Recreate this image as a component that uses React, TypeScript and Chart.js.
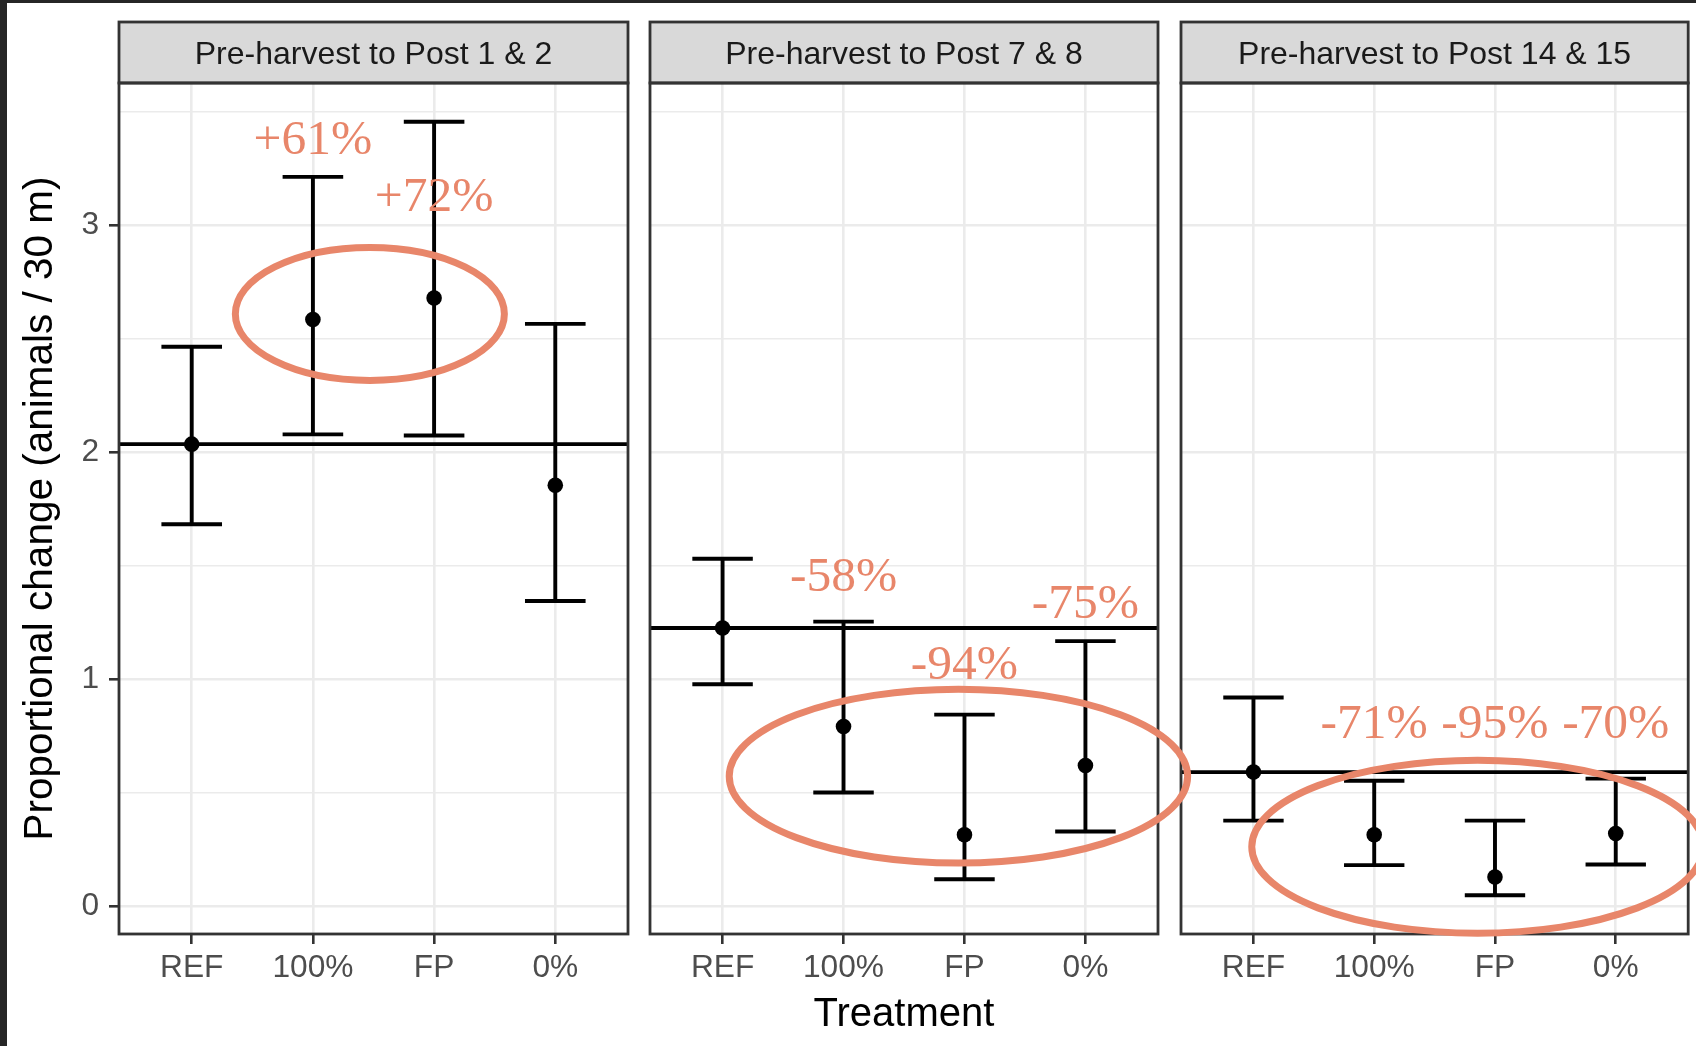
import React, { useEffect, useRef } from "react";
import { Chart, registerables } from "chart.js";

Chart.register(...registerables);

// ---------------- data ----------------
const categories = ["REF", "100%", "FP", "0%"];
const panelTitles = [
  "Pre-harvest to Post 1 & 2",
  "Pre-harvest to Post 7 & 8",
  "Pre-harvest to Post 14 & 15",
];

const meansP1 = [2.036, 2.585, 2.68, 1.855];
const lowerP1 = [1.683, 2.079, 2.074, 1.345];
const upperP1 = [2.465, 3.214, 3.457, 2.566];

const meansP2 = [1.226, 0.792, 0.315, 0.62];
const lowerP2 = [0.978, 0.501, 0.119, 0.329];
const upperP2 = [1.531, 1.254, 0.844, 1.168];

const meansP3 = [0.591, 0.315, 0.129, 0.32];
const lowerP3 = [0.377, 0.181, 0.048, 0.184];
const upperP3 = [0.92, 0.553, 0.377, 0.562];

const yMajorTicks = [0, 1, 2, 3];
const yMinorTicks = [0.5, 1.5, 2.5, 3.5];

// annotation labels (category index, value of baseline)
const annoLabelsP1 = ["+61%", "+72%"];
const annoCatP1 = [2, 3];
const annoValP1 = [3.313, 3.062];

const annoLabelsP2 = ["-58%", "-94%", "-75%"];
const annoCatP2 = [2, 3, 4];
const annoValP2 = [1.39, 1.0, 1.27];

const annoLabelsP3 = ["-71%", "-95%", "-70%"];
const annoCatP3 = [2, 3, 4];
const annoValP3 = [0.74, 0.74, 0.74];

// highlight ellipses: [center category, center value, half-width (categories), half-height (value)]
const ellipseP1 = [2.47, 2.61, 1.11, 0.293];
const ellipseP2 = [2.95, 0.573, 1.895, 0.383];
const ellipseP3 = [2.856, 0.262, 1.87, 0.381];

// ---------------- styling / layout ----------------
const W = 1696;
const H = 1046;
const panelLeft = [119, 650, 1181];
const panelRight = [628, 1158, 1690];
const stripTop = 22;
const plotTop = 83;
const xAxisHeight = 112;
const ORANGE = "#E8866A";
const SANS = '"Liberation Sans", Arial, sans-serif';
const SERIF = '"Liberation Serif", "Times New Roman", serif';

const panels = [
  { means: meansP1, lower: lowerP1, upper: upperP1, labels: annoLabelsP1, cats: annoCatP1, vals: annoValP1, ellipse: ellipseP1 },
  { means: meansP2, lower: lowerP2, upper: upperP2, labels: annoLabelsP2, cats: annoCatP2, vals: annoValP2, ellipse: ellipseP2 },
  { means: meansP3, lower: lowerP3, upper: upperP3, labels: annoLabelsP3, cats: annoCatP3, vals: annoValP3, ellipse: ellipseP3 },
];

const allLow = Math.min(...lowerP1, ...lowerP2, ...lowerP3);
const allHigh = Math.max(...upperP1, ...upperP2, ...upperP3);
const yRange = allHigh - allLow;
const yMin = allLow - 0.05 * yRange;
const yMax = allHigh + 0.05 * yRange;
const allYTicks = [...yMajorTicks, ...yMinorTicks].sort((a, b) => a - b);
const isMajor = (v: number) => yMajorTicks.includes(v);

export default function App() {
  const r0 = useRef<HTMLCanvasElement>(null);
  const r1 = useRef<HTMLCanvasElement>(null);
  const r2 = useRef<HTMLCanvasElement>(null);
  const refs = [r0, r1, r2];

  useEffect(() => {
    const charts: Chart[] = [];

    const drawAnnotations = (chart: any) => {
      const ctx = chart.ctx;
      ctx.save();
      charts.concat([chart]).slice(0, 3).forEach((c: any, pi: number) => {
        const p = panels[pi];
        const xs = c.scales.x;
        const ys = c.scales.y;
        // ellipse
        const [ecx, ecy, erx, ery] = p.ellipse;
        const cx = xs.getPixelForValue(ecx);
        const cy = ys.getPixelForValue(ecy);
        const rx = Math.abs(xs.getPixelForValue(ecx + erx) - cx);
        const ry = Math.abs(ys.getPixelForValue(ecy + ery) - cy);
        ctx.beginPath();
        ctx.ellipse(cx, cy, rx, ry, 0, 0, Math.PI * 2);
        ctx.strokeStyle = ORANGE;
        ctx.lineWidth = 7;
        ctx.stroke();
        // labels
        ctx.fillStyle = ORANGE;
        ctx.font = `49.5px ${SERIF}`;
        ctx.textAlign = "center";
        ctx.textBaseline = "alphabetic";
        p.labels.forEach((t: string, k: number) => {
          ctx.fillText(t, xs.getPixelForValue(p.cats[k]), ys.getPixelForValue(p.vals[k]));
        });
      });
      ctx.restore();
    };

    refs.forEach((ref, i) => {
      const canvas = ref.current;
      if (!canvas) return;
      const p = panels[i];

      const panelPlugin = {
        id: "panelDeco" + i,
        beforeDatasetsDraw(chart: any) {
          const { ctx, chartArea } = chart;
          const xs = chart.scales.x;
          const ys = chart.scales.y;
          ctx.save();
          ctx.strokeStyle = "#000";
          ctx.lineWidth = 3.9;
          // reference horizontal line at REF mean
          const hy = ys.getPixelForValue(p.means[0]);
          ctx.beginPath();
          ctx.moveTo(chartArea.left, hy);
          ctx.lineTo(chartArea.right, hy);
          ctx.stroke();
          // error bars
          p.means.forEach((_m: number, k: number) => {
            const x = xs.getPixelForValue(k + 1);
            const half = xs.getPixelForValue(k + 1.25) - x;
            const yl = ys.getPixelForValue(p.lower[k]);
            const yu = ys.getPixelForValue(p.upper[k]);
            ctx.beginPath();
            ctx.moveTo(x, yl);
            ctx.lineTo(x, yu);
            ctx.moveTo(x - half, yl);
            ctx.lineTo(x + half, yl);
            ctx.moveTo(x - half, yu);
            ctx.lineTo(x + half, yu);
            ctx.stroke();
          });
          ctx.restore();
        },
        afterDraw(chart: any) {
          const { ctx, chartArea } = chart;
          ctx.save();
          // strip
          ctx.fillStyle = "#D9D9D9";
          ctx.fillRect(chartArea.left, stripTop, chartArea.right - chartArea.left, chartArea.top - stripTop);
          ctx.strokeStyle = "#333333";
          ctx.lineWidth = 2.8;
          ctx.strokeRect(chartArea.left, stripTop, chartArea.right - chartArea.left, chartArea.top - stripTop);
          ctx.fillStyle = "#1A1A1A";
          ctx.font = `32px ${SANS}`;
          ctx.textAlign = "center";
          ctx.textBaseline = "middle";
          ctx.fillText(panelTitles[i], (chartArea.left + chartArea.right) / 2, (stripTop + chartArea.top) / 2 + 3);
          // panel border
          ctx.strokeRect(chartArea.left, chartArea.top, chartArea.right - chartArea.left, chartArea.bottom - chartArea.top);
          ctx.restore();
          if (i === 2) drawAnnotations(chart);
        },
      };

      const chart = new Chart(canvas, {
        type: "scatter",
        data: {
          datasets: [
            {
              data: p.means.map((m: number, k: number) => ({ x: k + 1, y: m })),
              backgroundColor: "#000",
              borderColor: "#000",
              borderWidth: 0,
              pointRadius: 7.8,
              pointHoverRadius: 7.8,
            },
          ],
        },
        options: {
          animation: false,
          responsive: false,
          devicePixelRatio: 1,
          events: [],
          layout: {
            padding: { left: i === 0 ? 0 : panelLeft[i], right: W - panelRight[i], top: plotTop, bottom: 0 },
          },
          plugins: { legend: { display: false }, tooltip: { enabled: false } },
          scales: {
            x: {
              type: "linear",
              min: 0.4,
              max: 4.6,
              afterBuildTicks: (s: any) => {
                s.ticks = categories.map((_c, k) => ({ value: k + 1 }));
              },
              afterFit: (s: any) => {
                s.height = xAxisHeight;
              },
              ticks: {
                callback: (v: any) => categories[Math.round(Number(v)) - 1],
                color: "#4D4D4D",
                font: { family: SANS, size: 31.7 },
                padding: 5,
                maxRotation: 0,
                autoSkip: false,
              },
              grid: {
                color: "#EBEBEB",
                lineWidth: 2.6,
                drawTicks: true,
                tickLength: 10,
                tickColor: "#333333",
                tickWidth: 2.6,
              },
              border: { display: false },
              title: {
                display: i === 1,
                text: "Treatment",
                color: "#000",
                font: { family: SANS, size: 40 },
                padding: { top: 0, bottom: 7 },
              },
            },
            y: {
              type: "linear",
              min: yMin,
              max: yMax,
              afterBuildTicks: (s: any) => {
                s.ticks = allYTicks.map((v) => ({ value: v }));
              },
              afterFit: (s: any) => {
                s.width = i === 0 ? panelLeft[0] : 0;
              },
              ticks: {
                display: i === 0,
                callback: (v: any) => (isMajor(Number(v)) ? String(v) : ""),
                color: "#4D4D4D",
                font: { family: SANS, size: 31.7 },
                padding: 10,
                autoSkip: false,
              },
              grid: {
                color: "#EBEBEB",
                lineWidth: (c: any) => (isMajor(c.tick?.value) ? 2.6 : 1.4),
                drawTicks: i === 0,
                tickLength: 10,
                tickColor: (c: any) => (isMajor(c.tick?.value) ? "#333333" : "rgba(0,0,0,0)"),
                tickWidth: 2.6,
              },
              border: { display: false },
              title: {
                display: i === 0,
                text: "Proportional change (animals / 30 m)",
                color: "#000",
                font: { family: SANS, size: 40.5 },
                padding: { top: 17, bottom: 0 },
              },
            },
          },
        },
        plugins: [panelPlugin],
      } as any);
      charts.push(chart);
    });

    return () => {
      charts.forEach((c) => c.destroy());
    };
  }, []);

  return (
    <div
      style={{
        position: "absolute",
        left: 0,
        top: 0,
        width: W,
        height: H,
        background: "#ffffff",
        overflow: "hidden",
      }}
    >
      {refs.map((r, i) => (
        <canvas
          key={i}
          ref={r}
          width={W}
          height={H}
          style={{ position: "absolute", left: 0, top: 0, width: W, height: H }}
        />
      ))}
      <div style={{ position: "absolute", left: 0, top: 0, width: 7, height: H, background: "#262626" }} />
      <div style={{ position: "absolute", left: 0, top: 0, width: W, height: 3, background: "#262626" }} />
    </div>
  );
}
